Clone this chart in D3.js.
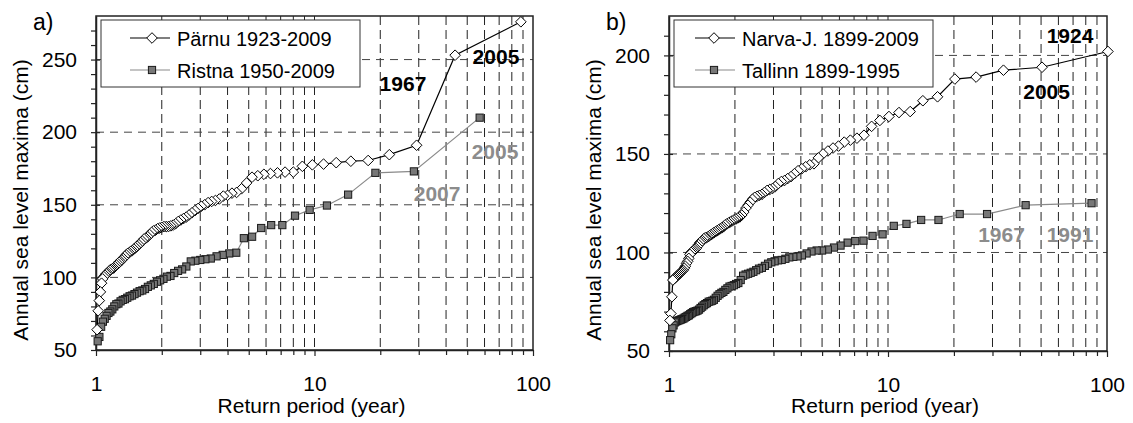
<!DOCTYPE html>
<html>
<head>
<meta charset="utf-8">
<script src="https://cdn.jsdelivr.net/npm/d3@7"></script>
<style>
  body { margin: 0; background: #fff; }
  svg text { font-family: "Liberation Sans", Arial, sans-serif; }
</style>
</head>
<body>
<div id="chart"></div>
<script>
// annual sea level maxima (cm), sorted from largest to smallest
const parnuMaxima = [276, 253, 191, 184.5, 180.5, 180, 179, 178, 177.5, 176.5,
  172.5, 172.5, 172, 171.5, 171, 170, 169, 165, 161, 158.5,
  158, 156.5, 156, 154, 153, 152.3, 151.5, 150, 149, 147.5,
  146, 144.5, 143, 141.5, 140.5, 139.5, 138.5, 137, 136, 135.5,
  135, 135, 135, 134.5, 134, 133.5, 132.5, 132, 131, 129.5,
  128, 127, 126.5, 125, 124, 122.5, 121.5, 120.5, 119.5, 118.5,
  118, 117, 116.5, 115.5, 114.5, 113, 112, 111, 110.5, 109.5,
  108.5, 107.5, 106.5, 106, 105.5, 105, 104, 103, 102.5, 101.5,
  100.5, 99, 96, 90, 84, 77, 64];
const ristnaMaxima = [210, 173, 172, 157, 149.5, 146.5, 142.5, 136, 136, 134,
  128, 127, 117, 116.5, 115.5, 114.5, 113, 112.5, 112, 111.5,
  111, 107.5, 105.5, 104.5, 103, 101, 100.5, 99, 98, 97,
  95.5, 94.5, 93.5, 92, 91, 90.5, 89.5, 88.5, 87.5, 87,
  86, 85, 84.5, 83.5, 82, 81.5, 80, 78, 76.5, 75.5,
  73.5, 71.5, 69.5, 66, 59, 56];
const narvaMaxima = [202, 194, 192.5, 189, 188, 179, 177, 171.5, 171, 169,
  167, 164, 159.5, 158, 157, 156, 154, 153, 151.5, 150,
  148, 145, 144.5, 143.5, 142.5, 141.5, 140, 138.5, 137.5, 136.5,
  136, 135, 133.5, 132.5, 132, 131.5, 130.5, 129.5, 129, 128.5,
  128, 127, 125.5, 124, 122.5, 120.5, 119, 118, 117.5, 117,
  116.5, 116, 115.5, 115, 114.5, 114, 113, 112.5, 112, 111.5,
  111, 110.5, 110, 109.5, 109, 108.5, 108, 107.5, 107.5, 107,
  106, 105.5, 105, 104, 103, 102, 101.5, 101, 100.5, 100,
  99, 97, 95.5, 94.5, 93, 92, 91, 90.5, 90, 89.5,
  89, 88.5, 88, 87.5, 87, 86.5, 86, 77.5, 69, 65.5];
const tallinnMaxima = [125, 124, 119.5, 119.5, 116.5, 116.5, 114.5, 113.5, 109.2, 108.4,
  106, 105.8, 105, 103.5, 102.5, 101.5, 101, 101, 100.5, 99.5,
  98.5, 98, 97.8, 97.5, 96.8, 96.2, 96, 95.5, 95, 94.3,
  93.2, 92.2, 91.8, 91, 90.2, 89.7, 89.2, 88.8, 88.2, 86,
  84.5, 84, 83.4, 83, 82.7, 81.8, 81, 80, 79.5, 78.8,
  78, 77, 76, 75.5, 75.2, 75, 74.3, 73.8, 73.2, 72.5,
  71.8, 71, 70.5, 70.2, 70, 69.7, 69.2, 68.7, 68.1, 67.8,
  67.3, 67, 66.5, 66.2, 66, 65.7, 65.5, 65.2, 65, 64.5,
  63, 61.5, 58.5, 55.5];

const seriesNames = ["Pärnu 1923-2009", "Ristna 1950-2009", "Narva-J. 1899-2009", "Tallinn 1899-1995"];
const xTickLabels = [1, 10, 100];
const xMinorTicks = [2, 3, 4, 5, 6, 7, 8, 9, 20, 30, 40, 50, 60, 70, 80, 90];
const yTicksA = [50, 100, 150, 200, 250];
const yTicksB = [50, 100, 150, 200];

// year labels: return period, level, text
const yearLabelsA = [
  { t: 25.4, v: 228.5, text: "1967", gray: false },
  { t: 67.7, v: 247, text: "2005", gray: false },
  { t: 67, v: 181.7, text: "2005", gray: true },
  { t: 36.4, v: 152.8, text: "2007", gray: true }
];
const yearLabelsB = [
  { t: 67.8, v: 206.2, text: "1924", gray: false },
  { t: 53, v: 178, text: "2005", gray: false },
  { t: 33, v: 105.4, text: "1967", gray: true },
  { t: 67.8, v: 105.4, text: "1991", gray: true }
];

// Weibull plotting position: T = (n + 1) / rank
function withReturnPeriod(values) {
  const n = values.length;
  return values.map((v, i) => ({ t: (n + 1) / (i + 1), v: v }));
}

const svg = d3.select("#chart").append("svg")
  .attr("width", 1133)
  .attr("height", 423);

const diamond = "M0,-5.3L5.3,0L0,5.3L-5.3,0Z";

function drawMarkers(g, data, kind, x, y) {
  if (kind === "diamond") {
    g.append("g").selectAll("path").data(data).join("path")
      .attr("d", diamond)
      .attr("transform", d => `translate(${x(d.t)},${y(d.v)})`)
      .attr("fill", "#fff")
      .attr("stroke", "#000")
      .attr("stroke-width", 1);
  } else {
    g.append("g").selectAll("rect").data(data).join("rect")
      .attr("x", d => x(d.t) - 3.6)
      .attr("y", d => y(d.v) - 3.6)
      .attr("width", 7.2)
      .attr("height", 7.2)
      .attr("fill", "#777")
      .attr("stroke", "#1a1a1a")
      .attr("stroke-width", 1);
  }
}

function drawPanel(p) {
  const x = d3.scaleLog().domain([1, 100]).range([p.left, p.right]);
  const y = d3.scaleLinear().domain([50, p.yMax]).range([p.bottom, p.top]);
  const g = svg.append("g");

  // grid
  g.append("g").selectAll("line").data(xMinorTicks.concat([10])).join("line")
    .attr("x1", d => x(d)).attr("x2", d => x(d))
    .attr("y1", p.top).attr("y2", p.bottom)
    .attr("stroke", "#222")
    .attr("stroke-dasharray", "9,5");
  g.append("g").selectAll("line").data(p.yTicks.filter(d => d > 50)).join("line")
    .attr("x1", p.left).attr("x2", p.right)
    .attr("y1", d => y(d)).attr("y2", d => y(d))
    .attr("stroke", "#444")
    .attr("stroke-dasharray", "8,6");

  // frame
  g.append("rect")
    .attr("x", p.left).attr("y", p.top)
    .attr("width", p.right - p.left).attr("height", p.bottom - p.top)
    .attr("fill", "none")
    .attr("stroke", "#222")
    .attr("stroke-width", 1.5);

  // x axis
  const xa = g.append("g")
    .attr("transform", `translate(0,${p.bottom})`)
    .call(d3.axisBottom(x).tickValues(xTickLabels).tickFormat(d3.format("d"))
      .tickSizeInner(6).tickSizeOuter(0).tickPadding(20));
  g.append("g")
    .attr("transform", `translate(0,${p.bottom})`)
    .call(d3.axisBottom(x).tickValues(xMinorTicks).tickFormat("").tickSize(5))
    .call(a => a.select(".domain").remove());

  // y axis
  const ya = g.append("g")
    .attr("transform", `translate(${p.left},0)`)
    .call(d3.axisLeft(y).tickValues(p.yTicks).tickSizeInner(5).tickSizeOuter(0).tickPadding(14));
  g.append("g")
    .attr("transform", `translate(${p.left},0)`)
    .call(d3.axisLeft(y).tickValues(p.yTicks).tickFormat("").tickSize(-4))
    .call(a => a.select(".domain").remove());
  g.append("g")
    .attr("transform", `translate(${p.left},0)`)
    .call(d3.axisLeft(y).tickValues(d3.range(60, p.yMax, 10).filter(d => d % 50 !== 0))
      .tickFormat("").tickSize(5))
    .call(a => a.select(".domain").remove());

  [xa, ya].forEach(a => {
    a.attr("font-size", 21).attr("font-family", null);
    a.selectAll("text").attr("fill", "#000");
  });
  g.selectAll(".domain").attr("stroke", "#222").attr("stroke-width", 1.5);
  g.selectAll(".tick line").attr("stroke", "#222").attr("stroke-width", 1.2);

  // axis titles
  g.append("text")
    .attr("x", (p.left + p.right) / 2 - 3).attr("y", 413)
    .attr("text-anchor", "middle")
    .attr("font-size", 21)
    .text("Return period (year)");
  g.append("text")
    .attr("transform", `translate(${p.left - 68},200) rotate(-90)`)
    .attr("text-anchor", "middle")
    .attr("font-size", 21)
    .text("Annual sea level maxima (cm)");
  g.append("text")
    .attr("x", p.left - 63).attr("y", 30)
    .attr("font-size", 23)
    .text(p.letter);

  // series: gray squares below, white diamonds on top
  const line = d3.line().x(d => x(d.t)).y(d => y(d.v));
  const lower = withReturnPeriod(p.lowerValues);
  const upper = withReturnPeriod(p.upperValues);
  g.append("path").datum(lower).attr("d", line)
    .attr("fill", "none").attr("stroke", "#8a8a8a").attr("stroke-width", 1.2);
  drawMarkers(g, lower, "square", x, y);
  g.append("path").datum(upper).attr("d", line)
    .attr("fill", "none").attr("stroke", "#000").attr("stroke-width", 1.2);
  drawMarkers(g, upper, "diamond", x, y);

  // year labels
  g.append("g").selectAll("text").data(p.labels).join("text")
    .attr("x", d => x(d.t)).attr("y", d => y(d.v))
    .attr("text-anchor", "middle")
    .attr("font-size", 21)
    .attr("font-weight", "bold")
    .attr("fill", d => d.gray ? "#8c8c8c" : "#000")
    .text(d => d.text);

  // legend
  const lg = g.append("g").attr("transform", `translate(${p.left + 5},${p.top + 4})`);
  lg.append("rect")
    .attr("width", 259).attr("height", 67)
    .attr("fill", "#fff").attr("stroke", "#333").attr("stroke-width", 1);
  const rows = [
    { name: p.upperName, kind: "diamond", color: "#000", cy: 18 },
    { name: p.lowerName, kind: "square", color: "#8a8a8a", cy: 50 }
  ];
  rows.forEach(r => {
    lg.append("line")
      .attr("x1", p.legLine[0]).attr("x2", p.legLine[1])
      .attr("y1", r.cy).attr("y2", r.cy)
      .attr("stroke", r.color).attr("stroke-width", 1.2);
    const sx = d3.scaleLinear().domain([0, 1]).range([p.legMark, p.legMark + 1]);
    const sy = d3.scaleLinear().domain([0, 1]).range([r.cy, r.cy + 1]);
    drawMarkers(lg, [{ t: 0, v: 0 }], r.kind, sx, sy);
    lg.append("text")
      .attr("x", p.legText).attr("y", r.cy + 7.5)
      .attr("font-size", 20)
      .text(r.name);
  });
}

drawPanel({
  left: 96, right: 533, top: 16, bottom: 350, yMax: 280,
  yTicks: yTicksA, letter: "a)",
  upperValues: parnuMaxima, upperName: seriesNames[0],
  lowerValues: ristnaMaxima, lowerName: seriesNames[1],
  labels: yearLabelsA,
  legLine: [29, 69], legMark: 51, legText: 76
});

drawPanel({
  left: 669, right: 1107, top: 16, bottom: 351, yMax: 220,
  yTicks: yTicksB, letter: "b)",
  upperValues: narvaMaxima, upperName: seriesNames[2],
  lowerValues: tallinnMaxima, lowerName: seriesNames[3],
  labels: yearLabelsB,
  legLine: [21, 61], legMark: 40, legText: 68
});
</script>
</body>
</html>
